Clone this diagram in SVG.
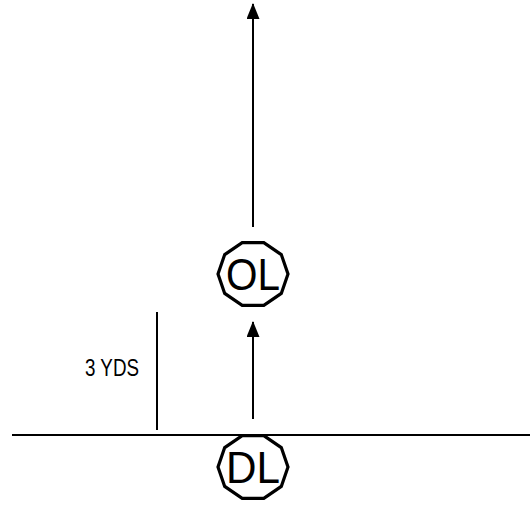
<svg xmlns="http://www.w3.org/2000/svg" width="530" height="508" viewBox="0 0 530 508">
  <style>
    .line { stroke: #000; stroke-width: 2; fill: none; }
    .player { fill: #fff; stroke: #000; stroke-width: 3.2; }
    .label { font-family: "Liberation Sans", Arial, sans-serif; fill: #000; text-anchor: middle; }
  </style>
  <defs>
    <!-- solid triangular head, drawn along +x so orient="auto" follows the line -->
    <marker id="arrow" viewBox="0 0 16 13" refX="15" refY="6.5" markerWidth="16" markerHeight="13" markerUnits="userSpaceOnUse" orient="auto">
      <path d="M0,0 L16,6.5 L0,13 Z" fill="#000"/>
    </marker>
  </defs>
  <rect width="530" height="508" fill="#fff"/>

  <g id="connectors">
    <line class="line" x1="12" y1="435" x2="530" y2="435"/>
    <line class="line" x1="157" y1="312" x2="157" y2="430" stroke-width="1.5"/>
    <line class="line" x1="253" y1="419" x2="253" y2="322" marker-end="url(#arrow)"/>
    <line class="line" x1="253" y1="227" x2="253" y2="4" marker-end="url(#arrow)"/>
  </g>

  <g id="dim-label">
    <text class="label" x="112" y="376" font-size="23" textLength="54" lengthAdjust="spacingAndGlyphs">3 YDS</text>
  </g>

  <g id="OL">
    <polygon class="player" points="288,274 281.3,293.4 263.8,305.4 242.2,305.4 224.7,293.4 218,274 224.7,254.6 242.2,242.6 263.8,242.6 281.3,254.6"/>
    <text class="label" x="253" y="290" font-size="45" textLength="54" lengthAdjust="spacingAndGlyphs">OL</text>
  </g>

  <g id="DL">
    <polygon class="player" points="288,467 281.3,486.4 263.8,498.4 242.2,498.4 224.7,486.4 218,467 224.7,447.6 242.2,435.6 263.8,435.6 281.3,447.6"/>
    <text class="label" x="253" y="483" font-size="45" textLength="54" lengthAdjust="spacingAndGlyphs">DL</text>
  </g>
</svg>
